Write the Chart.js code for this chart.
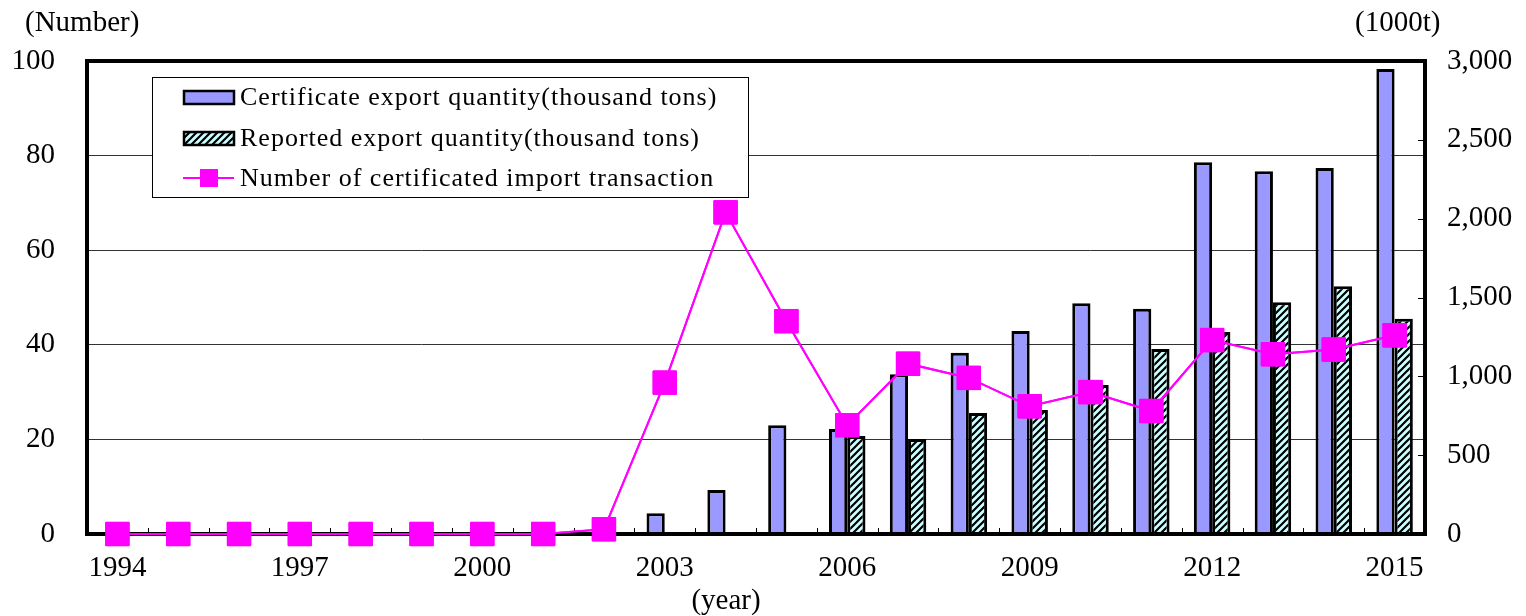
<!DOCTYPE html>
<html><head><meta charset="utf-8">
<script src="https://cdn.jsdelivr.net/npm/chart.js@4.4.0/dist/chart.umd.min.js"></script>
<style>html,body{margin:0;padding:0;background:#fff;}#wrap{position:relative;width:1526px;height:616px;}</style>
</head><body><div id="wrap"><canvas id="c" width="1526" height="616"></canvas></div>
<script>
const years = ['1994','1995','1996','1997','1998','1999','2000','2001','2002','2003','2004','2005','2006','2007','2008','2009','2010','2011','2012','2013','2014','2015'];
const certificateExport = [null,null,null,null,null,null,null,null,null,132,279,690,666,1014,1149,1287,1464,1428,2358,2301,2322,2949];
const reportedExport = [null,null,null,null,null,null,null,null,null,null,null,null,621,603,768,786,945,1173,1281,1470,1572,1365];
const importTransactions = [0,0,0,0,0,0,0,0,1,32,68,45,23,36,33,27,30,26,41,38,39,42];
const leftTicks = [0,20,40,60,80,100];
const rightTicks = [0,500,1000,1500,2000,2500,3000];
const xTickYears = ['1994','1997','2000','2003','2006','2009','2012','2015'];
const seriesNames = ['Certificate export quantity(thousand tons)','Reported export quantity(thousand tons)','Number of certificated import transaction'];
const leftTitle = '(Number)';
const rightTitle = '(1000t)';
const xTitle = '(year)';

const FONT = '"Liberation Serif", "Times New Roman", serif';
const canvas = document.getElementById('c');
const ctx = canvas.getContext('2d');

function hatchPattern(){
  const p = document.createElement('canvas'); p.width = 7; p.height = 7;
  const g = p.getContext('2d');
  g.fillStyle = '#CCFFFF'; g.fillRect(0,0,7,7);
  g.strokeStyle = '#000'; g.lineWidth = 2.2;
  g.beginPath();
  g.moveTo(-1,8); g.lineTo(8,-1);
  g.moveTo(-1,1); g.lineTo(1,-1);
  g.moveTo(6,8); g.lineTo(8,6);
  g.stroke();
  return ctx.createPattern(p,'repeat');
}
const hatch = hatchPattern();

const extras = {
  id:'extras',
  beforeDatasetsDraw(chart){
    const {ctx, chartArea:a, scales} = chart;
    ctx.save();
    ctx.strokeStyle = '#000'; ctx.lineWidth = 1;
    for (let i = 0; i < years.length - 1; i++){
      const x = Math.round((scales.x.getPixelForValue(i) + scales.x.getPixelForValue(i+1)) / 2) + 0.5;
      ctx.beginPath(); ctx.moveTo(x, a.bottom); ctx.lineTo(x, a.bottom - 6); ctx.stroke();
    }
    rightTicks.forEach(v => {
      const y = Math.round(scales.y1.getPixelForValue(v)) + 0.5;
      ctx.beginPath(); ctx.moveTo(a.right, y); ctx.lineTo(a.right - 7, y); ctx.stroke();
    });
    ctx.restore();
  },
  afterDatasetsDraw(chart){
    const {ctx, chartArea:a} = chart;
    ctx.save();
    ctx.strokeStyle = '#000'; ctx.lineWidth = 4;
    ctx.strokeRect(a.left, a.top, a.right - a.left, a.bottom - a.top);
    ctx.restore();
    chart.getDatasetMeta(0).controller.draw();
  },
  afterDraw(chart){
    const {ctx} = chart;
    const ds = chart.data.datasets;
    ctx.save();
    ctx.fillStyle = '#fff'; ctx.fillRect(152,77,596,120);
    ctx.strokeStyle = '#000'; ctx.lineWidth = 1;
    ctx.strokeRect(152.5,77.5,596,120);
    ctx.font = '26px ' + FONT; ctx.textBaseline = 'middle'; ctx.textAlign = 'left';
    ctx.letterSpacing = '1px';
    const rows = [{ds:ds[1], y:97},{ds:ds[2], y:138},{ds:ds[0], y:178}];
    rows.forEach(r => {
      if (r.ds.type === 'line'){
        ctx.strokeStyle = r.ds.borderColor; ctx.lineWidth = 2;
        ctx.beginPath(); ctx.moveTo(183, r.y); ctx.lineTo(234, r.y); ctx.stroke();
        ctx.fillStyle = r.ds.backgroundColor; ctx.fillRect(200, r.y - 9, 18, 18);
      } else {
        ctx.fillStyle = r.ds.backgroundColor; ctx.fillRect(184, r.y - 6, 50, 13);
        ctx.strokeStyle = '#000'; ctx.lineWidth = 2.5; ctx.strokeRect(184, r.y - 6, 50, 13);
      }
      ctx.fillStyle = '#000';
      ctx.fillText(r.ds.label, 240, r.y + 1);
    });
    ctx.letterSpacing = '0px';
    ctx.font = '29px ' + FONT;
    ctx.textAlign = 'left'; ctx.fillText(leftTitle, 25, 23);
    ctx.fillText(rightTitle, 1355, 23);
    ctx.textAlign = 'center'; ctx.fillText(xTitle, 726, 601);
    ctx.restore();
  }
};

new Chart(ctx, {
  type:'bar',
  data:{
    labels: years,
    datasets:[
      {type:'line', label:seriesNames[2], data:importTransactions, yAxisID:'y', borderColor:'#FF00FF', backgroundColor:'#FF00FF',
       borderWidth:2, pointStyle:'rect', pointRadius:16.5, pointHoverRadius:16.5, pointBorderWidth:1, pointBorderColor:'#FF00FF', tension:0, clip:false, order:0},
      {label:seriesNames[0], data:certificateExport, yAxisID:'y1', backgroundColor:'#9999FF', borderColor:'#000', borderWidth:3,
       categoryPercentage:0.6, barPercentage:1, order:1},
      {label:seriesNames[1], data:reportedExport, yAxisID:'y1', backgroundColor:hatch, borderColor:'#000', borderWidth:3,
       categoryPercentage:0.6, barPercentage:1, order:2}
    ]
  },
  options:{
    responsive:false, animation:false, devicePixelRatio:1,
    layout:{padding:{top:61, left:0, right:0, bottom:0}},
    plugins:{legend:{display:false}, tooltip:{enabled:false}, title:{display:false}},
    scales:{
      x:{
        grid:{display:false, drawTicks:false}, border:{display:false},
        ticks:{autoSkip:false, maxRotation:0, minRotation:0, padding:17, color:'#000', font:{family:FONT, size:29},
          callback:(v,i) => xTickYears.includes(years[i]) ? years[i] : ''},
        afterFit: s => { s.height = 82; }
      },
      y:{
        position:'left', min:0, max:100,
        afterBuildTicks: s => { s.ticks = leftTicks.map(v => ({value:v})); },
        ticks:{padding:32, color:'#000', font:{family:FONT, size:29}},
        grid:{color:'#333', lineWidth:1, drawTicks:false}, border:{display:false},
        afterFit: s => { s.width = 87; }
      },
      y1:{
        position:'right', min:0, max:3000,
        afterBuildTicks: s => { s.ticks = rightTicks.map(v => ({value:v})); },
        ticks:{padding:22, color:'#000', font:{family:FONT, size:29}, callback: v => v.toLocaleString('en-US')},
        grid:{display:false, drawTicks:false}, border:{display:false},
        afterFit: s => { s.width = 101; }
      }
    }
  },
  plugins:[extras]
});
</script></body></html>
